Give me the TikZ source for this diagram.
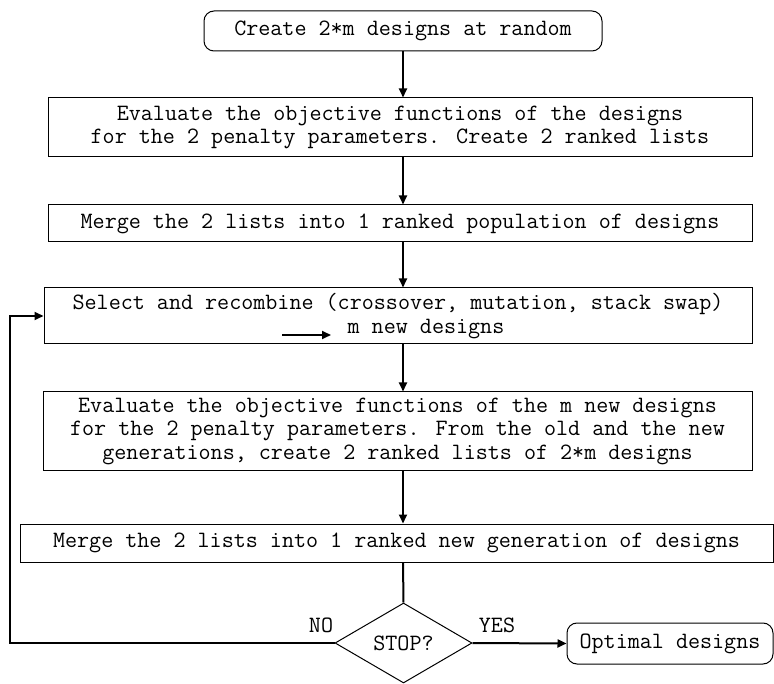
\documentclass[tikz,border=0pt]{standalone}
\usetikzlibrary{shapes.geometric,arrows.meta}
\begin{document}
\begin{tikzpicture}[x=1pt,y=-1pt,
  every node/.style={font=\ttfamily\fontsize{23.4}{23.5}\selectfont, align=center, inner sep=0pt},
  box/.style={draw, line width=1pt},
  rbox/.style={draw, line width=1pt, rounded corners=10pt},
  arr/.style={line width=2pt, -{Triangle[length=9pt,width=8pt]}}]
\useasboundingbox (0,0) rectangle (774,684);
\node[rbox, minimum width=398pt, minimum height=40pt] (b1) at (403,31) {Create 2*m designs at random};
\node[box, minimum width=704pt, minimum height=59pt] (b2) at (400,127.5) {Evaluate the objective functions of the designs\\for the 2 penalty parameters. Create 2 ranked lists};
\node[box, minimum width=704pt, minimum height=37pt] (b3) at (400,223.5) {Merge the 2 lists into 1 ranked population of designs};
\node[box, minimum width=708pt, minimum height=56pt] (b4) at (398,316) {Select and recombine (crossover, mutation, stack swap)\\\hspace*{56pt}m new designs};
\node[box, minimum width=709pt, minimum height=78pt] (b5) at (397.5,431) {Evaluate the objective functions of the m new designs\\for the 2 penalty parameters. From the old and the new\\generations, create 2 ranked lists of 2*m designs};
\node[box, minimum width=753pt, minimum height=38pt] (b6) at (396.5,543) {Merge the 2 lists into 1 ranked new generation of designs};
\node[draw, line width=1pt, diamond, minimum width=137pt, minimum height=80pt] (d) at (403.5,643) {STOP?};
\node[rbox, minimum width=206pt, minimum height=41pt] (opt) at (670,643.5) {Optimal designs};
\node (no) at (321,625) {NO};
\node (yes) at (497,625) {YES};
\coordinate (sa) at (282,335);
\coordinate (sb) at (331,335);
\coordinate (lp) at (10,643);
\draw[arr] (b1.south) -- (b1.south |- b2.north);
\draw[arr] (b1.south |- b2.south) -- (b1.south |- b3.north);
\draw[arr] (b1.south |- b3.south) -- (b1.south |- b4.north);
\draw[arr] (b1.south |- b4.south) -- (b1.south |- b5.north);
\draw[arr] (b1.south |- b5.south) -- (b1.south |- b6.north);
\draw[line width=2pt] (b1.south |- b6.south) -- (d.north);
\draw[arr] (d.east) -- (opt.west);
\draw[arr] (d.west) -- (lp) |- (b4.west);
\draw[arr] (sa) -- (sb);
\end{tikzpicture}
\end{document}
